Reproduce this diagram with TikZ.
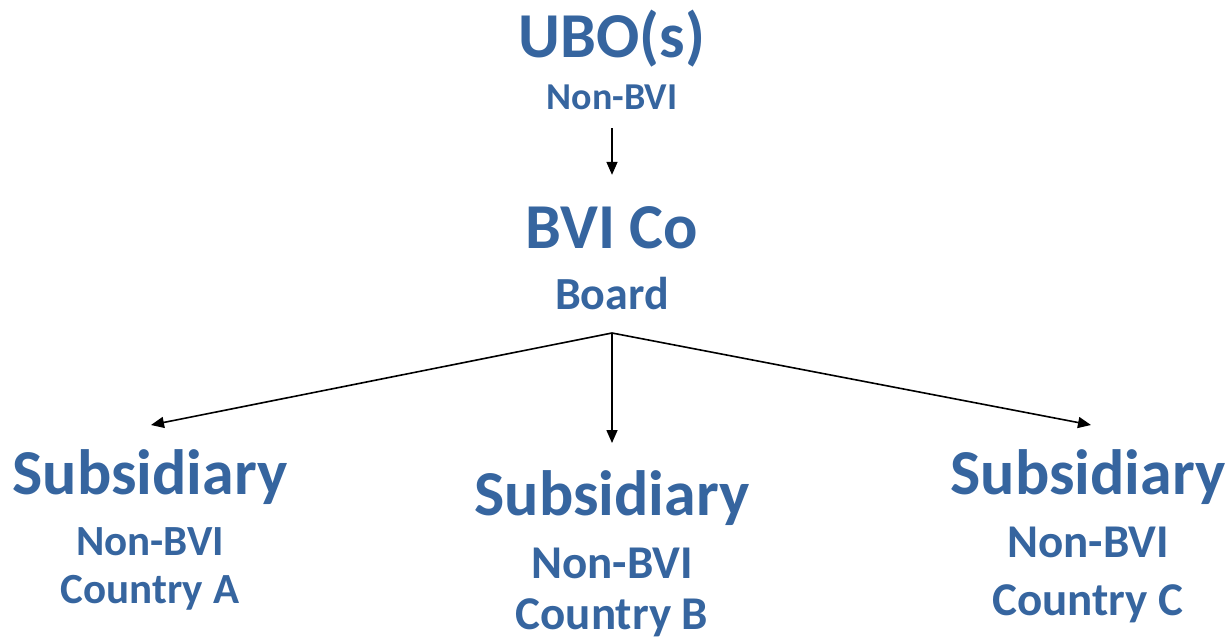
\documentclass[tikz,border=0pt]{standalone}
\usepackage{fontspec}
\setmainfont{Carlito}
\usepackage{xcolor}
\definecolor{boxblue}{HTML}{36659F}
\usetikzlibrary{arrows.meta, positioning}

\begin{document}
\begin{tikzpicture}[
        x=1pt, y=-1pt,
        big/.style={anchor=base, text=boxblue, font=\bfseries\fontsize{64}{70}\selectfont, inner sep=0pt},
        mid/.style={anchor=base, text=boxblue, font=\bfseries\fontsize{46}{50}\selectfont, inner sep=0pt},
        small/.style={anchor=base, text=boxblue, font=\bfseries\fontsize{43}{48}\selectfont, inner sep=0pt},
        smaller/.style={anchor=base, text=boxblue, font=\bfseries\fontsize{47}{52}\selectfont, inner sep=0pt},
        tiny/.style={anchor=base, text=boxblue, font=\bfseries\fontsize{38}{42}\selectfont, inner sep=0pt},
        arrow/.style={-{Triangle[length=13pt,width=11pt]}, line width=1.6pt}
    ]
    \useasboundingbox (0,0) rectangle (1229,640);

    % owners
    \node[big] (ubo) at (612,57) {UBO(s)};
    \node[tiny] (ubonote) at (612,109) {Non-BVI};

    % company
    \node[big] (bvi) at (612,248) {BVI Co};
    \node[mid] (board) at (612,309) {Board};

    % subsidiaries
    \node[big] (subA) at (150,494) {Subsidiary};
    \node[small] (subAnote) at (150,555) {Non-BVI};
    \node[small] (subActry) at (150,603) {Country A};

    \node[big] (subB) at (612,515) {Subsidiary};
    \node[smaller] (subBnote) at (612,578) {Non-BVI};
    \node[smaller] (subBctry) at (612,629) {Country B};

    \node[big] (subC) at (1088,494) {Subsidiary};
    \node[smaller] (subCnote) at (1088,557) {Non-BVI};
    \node[smaller] (subCctry) at (1088,615) {Country C};

    % arrow ends
    \coordinate (split) at (612,333);
    \coordinate (tipA) at (151,425);
    \coordinate (tipB) at (612,443);
    \coordinate (tipC) at (1091,425);

    % connections
    \draw[arrow, shorten <=19pt, shorten >=31pt] (ubonote.south) -- (bvi.north);
    \draw[arrow] (split) -- (tipA);
    \draw[arrow] (split) -- (tipB);
    \draw[arrow] (split) -- (tipC);

\end{tikzpicture}
\end{document}
